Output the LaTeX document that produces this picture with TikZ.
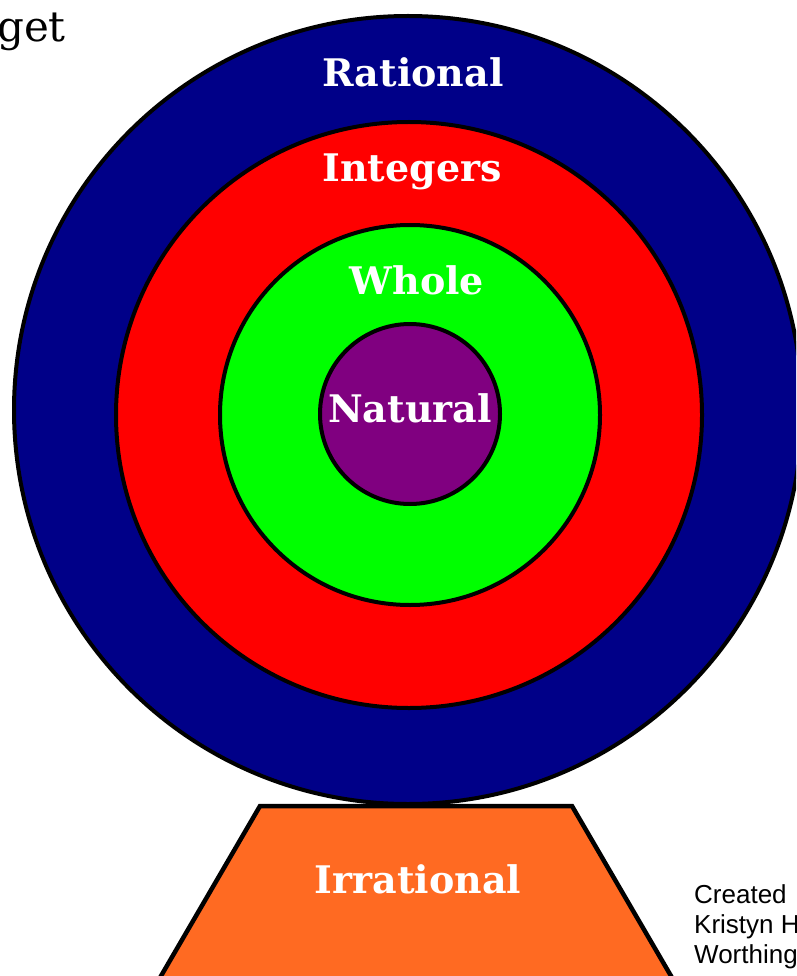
\documentclass[tikz,border=0pt]{standalone}
\usepackage{fontspec}
\newfontfamily\ringfont{DejaVu Serif}
\newfontfamily\notefont{Liberation Sans}
\usetikzlibrary{positioning}
\definecolor{ratblue}{RGB}{0,0,136}
\definecolor{intred}{RGB}{255,0,0}
\definecolor{wholegreen}{RGB}{0,255,0}
\definecolor{natpurple}{RGB}{128,0,128}
\definecolor{irrorange}{RGB}{255,106,34}
\tikzset{
  ring/.style={
    circle,
    draw,
    line width=4pt,
    inner sep=0pt
  },
  ringlabel/.style={
    text=white,
    font=\ringfont\bfseries\fontsize{38}{40}\selectfont,
    inner sep=0pt
  },
  note/.style={
    font=\notefont\fontsize{26}{30}\selectfont,
    align=left,
    anchor=north west,
    inner sep=0pt
  }
}
\begin{document}
\begin{tikzpicture}[x=1pt,y=-1pt]
\useasboundingbox (0,0) rectangle (796,976);
\clip (0,0) rectangle (796,976);
\fill[white] (0,0) rectangle (796,976);

% base of the target
\draw[line width=4.5pt, fill=irrorange, line join=miter]
  (260,806) -- (572,806) -- (685,1000) -- (147,1000) -- cycle;
\node[ringlabel] (irrational) at (418,879) {Irrational};

% rings, outside in
\node[ring, fill=ratblue, minimum size=788pt] (rational) at (408,410) {};
\node[ring, fill=intred, minimum size=586pt] (integers) at (409,415) {};
\node[ring, fill=wholegreen, minimum size=380pt] (whole) at (410,415) {};
\node[ring, fill=natpurple, minimum size=180pt] (natural) at (410,414) {};

\node[ringlabel] (ratlbl) at (413,72) {Rational};
\node[ringlabel] (intlbl) at (412,172) {Integers};
\node[ringlabel] (wholelbl) at (417,280) {Whole};
\node[ringlabel] (natlbl) at (410,408) {Natural};

\node[anchor=base east, inner sep=0pt, font=\ringfont\fontsize{42}{46}\selectfont] (title) at (66,42) {get};
\node[note] (credit) at (694,884) {Created\\Kristyn H\\Worthing};
\end{tikzpicture}
\end{document}
